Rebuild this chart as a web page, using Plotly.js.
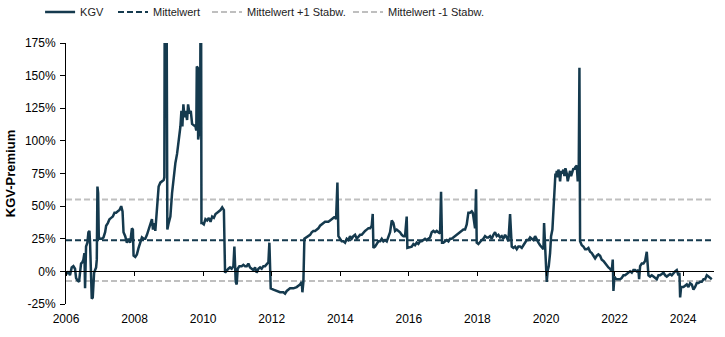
<!DOCTYPE html>
<html>
<head>
<meta charset="utf-8">
<script src="https://cdn.plot.ly/plotly-3.0.1.min.js"></script>
<style>html,body{margin:0;padding:0;background:#fff}#chart{width:725px;height:337px}</style>
</head>
<body>
<div id="chart"></div>
<script>
// KGV-Premium (in %), x = decimal year
var years2006_2010 = [2006.020,2006.068,2006.117,2006.166,2006.215,2006.263,2006.293,2006.332,2006.380,2006.410,2006.439,2006.478,2006.507,2006.537,2006.556,2006.585,2006.624,2006.654,2006.683,2006.702,2006.732,2006.751,2006.780,2006.820,2006.849,2006.878,2006.898,2006.917,2006.937,2006.956,2006.976,2007.044,2007.093,2007.141,2007.171,2007.220,2007.268,2007.317,2007.366,2007.415,2007.463,2007.512,2007.561,2007.610,2007.649,2007.678,2007.727,2007.776,2007.824,2007.873,2007.922,2007.951,2007.971,2008.020,2008.068,2008.117,2008.166,2008.215,2008.263,2008.312,2008.361,2008.410,2008.459,2008.507,2008.537,2008.576,2008.605,2008.654,2008.702,2008.751,2008.800,2008.849,2008.868,2008.878,2008.898,2008.917,2008.937,2008.956,2008.995,2009.044,2009.093,2009.141,2009.190,2009.239,2009.288,2009.337,2009.366,2009.395,2009.424,2009.454,2009.483,2009.532,2009.561,2009.600,2009.639,2009.678,2009.727,2009.776,2009.800,2009.815,2009.844,2009.854,2009.893,2009.912,2009.922,2009.941,2009.951,2009.971,2010.020,2010.068,2010.117,2010.166,2010.215,2010.263,2010.312,2010.361,2010.410,2010.459,2010.507,2010.556,2010.605];
var prem2006_2010 = [-2,0,-3,3,4,2,-5,-7,-8,2,6,7,9,14,-13,19,22,30,31,22,-13,-21,-20,-1,1,3,9,65,60,27,25,25,26,30,35,37,40,41,42,45,45,46,47,50,46,30,27,22,25,22,33,32,12,11,13,18,22,26,25,25,28,32,35,40,32,37,31,52,65,68,69,70,72,190,160,190,185,32,37,42,60,73,83,90,101,111,123,111,128,118,123,116,128,121,123,113,112,111,108,157,156,101,108,115,190,190,37,37,36,40,39,41,38,42,41,44,45,46,47,49,47];

var years2010_2015 = [2010.639,2010.687,2010.736,2010.784,2010.833,2010.882,2010.911,2010.950,2010.979,2011.008,2011.057,2011.125,2011.173,2011.222,2011.271,2011.319,2011.368,2011.417,2011.465,2011.514,2011.562,2011.611,2011.660,2011.708,2011.757,2011.806,2011.854,2011.903,2011.932,2011.951,2011.971,2012.049,2012.146,2012.243,2012.340,2012.389,2012.438,2012.535,2012.632,2012.729,2012.827,2012.875,2012.895,2012.924,2012.953,2013.002,2013.070,2013.118,2013.167,2013.215,2013.264,2013.313,2013.361,2013.410,2013.459,2013.507,2013.556,2013.604,2013.653,2013.702,2013.750,2013.799,2013.848,2013.877,2013.916,2013.945,2013.993,2014.042,2014.091,2014.139,2014.188,2014.236,2014.285,2014.334,2014.382,2014.431,2014.480,2014.528,2014.577,2014.625,2014.674,2014.723,2014.771,2014.820,2014.868,2014.917,2014.946,2014.966,2015.014,2015.063,2015.112,2015.160,2015.209,2015.257,2015.306,2015.355,2015.403,2015.452,2015.501,2015.549,2015.598,2015.646,2015.695,2015.744,2015.792,2015.841,2015.889];
var prem2010_2015 = [-1,1,2,3,2,4,19,-8,-10,2,4,4,5,4,4,6,3,2,1,3,-1,2,3,2,4,4,6,7,22,7,-13,-14,-15,-16,-16,-17,-15,-13,-13,-12,-10,-8,-16,-8,25,26,27,28,30,31,31,32,33,35,36,37,38,38,38,39,40,41,42,40,68,27,25,23,23,22,25,24,27,25,27,28,25,27,28,28,30,31,32,33,33,35,44,18,19,21,23,23,25,23,24,23,26,30,39,37,31,32,31,30,28,27,27];

var years2016_2019 = [2015.937,2015.957,2016.035,2016.083,2016.132,2016.181,2016.229,2016.278,2016.326,2016.375,2016.424,2016.472,2016.521,2016.569,2016.618,2016.667,2016.715,2016.764,2016.813,2016.861,2016.910,2016.939,2016.968,2017.007,2017.056,2017.104,2017.153,2017.202,2017.250,2017.299,2017.347,2017.396,2017.445,2017.493,2017.542,2017.590,2017.639,2017.688,2017.736,2017.785,2017.834,2017.863,2017.882,2017.931,2017.960,2017.979,2018.028,2018.077,2018.125,2018.174,2018.223,2018.271,2018.320,2018.368,2018.417,2018.466,2018.514,2018.563,2018.612,2018.660,2018.709,2018.757,2018.806,2018.855,2018.903,2018.952,2018.981,2019.001,2019.049,2019.098,2019.147,2019.195,2019.244];
var prem2016_2019 = [42,18,19,19,21,20,22,21,23,23,24,25,24,25,26,30,31,30,31,30,29,61,22,22,23,24,23,25,25,26,27,28,29,30,31,32,32,36,45,45,46,45,42,33,63,22,21,23,24,25,27,26,26,27,25,28,30,27,28,26,27,25,28,26,23,44,22,19,18,19,17,19,19];

var years2019_2024 = [2019.293,2019.341,2019.390,2019.438,2019.487,2019.536,2019.584,2019.633,2019.682,2019.730,2019.779,2019.827,2019.876,2019.925,2019.944,2019.973,2020.003,2020.022,2020.051,2020.080,2020.119,2020.148,2020.187,2020.216,2020.246,2020.275,2020.294,2020.314,2020.343,2020.362,2020.391,2020.411,2020.440,2020.469,2020.508,2020.537,2020.566,2020.605,2020.634,2020.664,2020.702,2020.732,2020.761,2020.800,2020.829,2020.858,2020.897,2020.926,2020.955,2020.975,2020.994,2021.043,2021.091,2021.140,2021.189,2021.237,2021.286,2021.335,2021.383,2021.432,2021.481,2021.529,2021.578,2021.626,2021.675,2021.724,2021.772,2021.821,2021.869,2021.918,2021.947,2021.967,2021.996,2022.015,2022.064,2022.113,2022.161,2022.210,2022.258,2022.307,2022.356,2022.404,2022.453,2022.502,2022.550,2022.599,2022.648,2022.696,2022.716,2022.745,2022.793,2022.842,2022.891,2022.939,2022.968,2022.988,2023.036,2023.085,2023.134,2023.182,2023.231,2023.280,2023.328,2023.377,2023.425,2023.474,2023.523,2023.571,2023.620,2023.668,2023.717,2023.766,2023.814,2023.863,2023.892,2023.912,2023.941,2023.960,2024.009,2024.057,2024.106,2024.155,2024.203,2024.252,2024.301,2024.349,2024.398,2024.447,2024.495,2024.544,2024.593,2024.641,2024.690,2024.738,2024.787,2024.836];
var prem2019_2024 = [18,20,22,24,24,26,25,24,27,24,22,20,18,17,37,17,4,-8,1,4,14,27,32,47,63,75,73,77,72,78,74,69,77,75,78,73,79,75,69,72,77,73,75,79,78,80,81,69,78,156,23,20,19,17,17,18,15,14,12,10,12,13,12,9,8,6,4,3,2,0,9,-15,-4,-5,-6,-6,-6,-5,-3,-3,-2,-1,0,-1,1,1,0,1,-6,4,6,6,8,15,-1,-3,-4,-3,-4,-5,-6,-3,-3,-2,-1,-3,-4,-3,-2,-3,-1,0,1,-3,-1,-20,-12,-12,-12,-11,-10,-12,-9,-10,-14,-12,-9,-9,-8,-8,-6,-6,-3,-4,-5,-6];

// Reference levels
var refRange = [2006, 2024.9];
var meanValue = 23.8;
var plusStd = 55.0;
var minusStd = -7.4;

var legendNames = ['KGV', 'Mittelwert', 'Mittelwert +1 Stabw.', 'Mittelwert -1 Stabw.'];
var yTicks = [-25, 0, 25, 50, 75, 100, 125, 150, 175];
var xTicks = [2006, 2008, 2010, 2012, 2014, 2016, 2018, 2020, 2022, 2024];

var years = years2006_2010.concat(years2010_2015, years2016_2019, years2019_2024);
var prem = prem2006_2010.concat(prem2010_2015, prem2016_2019, prem2019_2024);

var dark = '#153a4e';
var grey = '#bfbfbf';
var dashPattern = '6px,3px';

var traces = [
  {x: refRange, y: [plusStd, plusStd], mode: 'lines', name: legendNames[2], legend: 'legend3', line: {color: grey, width: 2, dash: dashPattern}, hoverinfo: 'skip'},
  {x: refRange, y: [minusStd, minusStd], mode: 'lines', name: legendNames[3], legend: 'legend4', line: {color: grey, width: 2, dash: dashPattern}, hoverinfo: 'skip'},
  {x: refRange, y: [meanValue, meanValue], mode: 'lines', name: legendNames[1], legend: 'legend2', line: {color: dark, width: 2, dash: dashPattern}, hoverinfo: 'skip'},
  {x: years, y: prem, mode: 'lines', name: legendNames[0], legend: 'legend', line: {color: dark, width: 2.5}}
];

var tickFont = {family: 'Liberation Sans, Arial, sans-serif', size: 12, color: '#000'};
var legFont = {family: 'Liberation Sans, Arial, sans-serif', size: 11, color: '#222'};
function leg(x) {
  return {orientation: 'h', x: x, xanchor: 'left', y: 1.119, yanchor: 'middle', font: legFont, bgcolor: 'rgba(0,0,0,0)', borderwidth: 0};
}

var layout = {
  width: 725, height: 337,
  margin: {l: 66, r: 11, t: 43, b: 33, autoexpand: false},
  paper_bgcolor: '#fff', plot_bgcolor: '#fff',
  showlegend: true,
  legend: leg(-0.040),
  legend2: leg(0.0725),
  legend3: leg(0.2176),
  legend4: leg(0.4352),
  xaxis: {
    range: refRange, tickvals: xTicks, ticktext: xTicks.map(String),
    anchor: 'free', position: 0.125, automargin: false,
    showgrid: false, zeroline: false, showline: true, linecolor: '#000', linewidth: 1,
    ticks: 'outside', ticklen: 4, tickcolor: '#000', tickwidth: 1,
    ticklabelstandoff: 32, tickfont: tickFont
  },
  yaxis: {
    range: [-25, 175], tickvals: yTicks, ticktext: yTicks.map(function (v) { return v + '%'; }),
    automargin: false,
    showgrid: false, zeroline: false, showline: true, linecolor: '#000', linewidth: 1,
    ticks: 'outside', ticklen: 5, tickcolor: '#000', tickfont: tickFont, ticklabelstandoff: 2,
    title: {text: 'KGV-Premium', font: {family: 'Liberation Sans, Arial, sans-serif', size: 13, color: '#000', weight: 'bold'}, standoff: 6}
  }
};

Plotly.newPlot('chart', traces, layout, {staticPlot: true, displayModeBar: false});
</script>
</body>
</html>
